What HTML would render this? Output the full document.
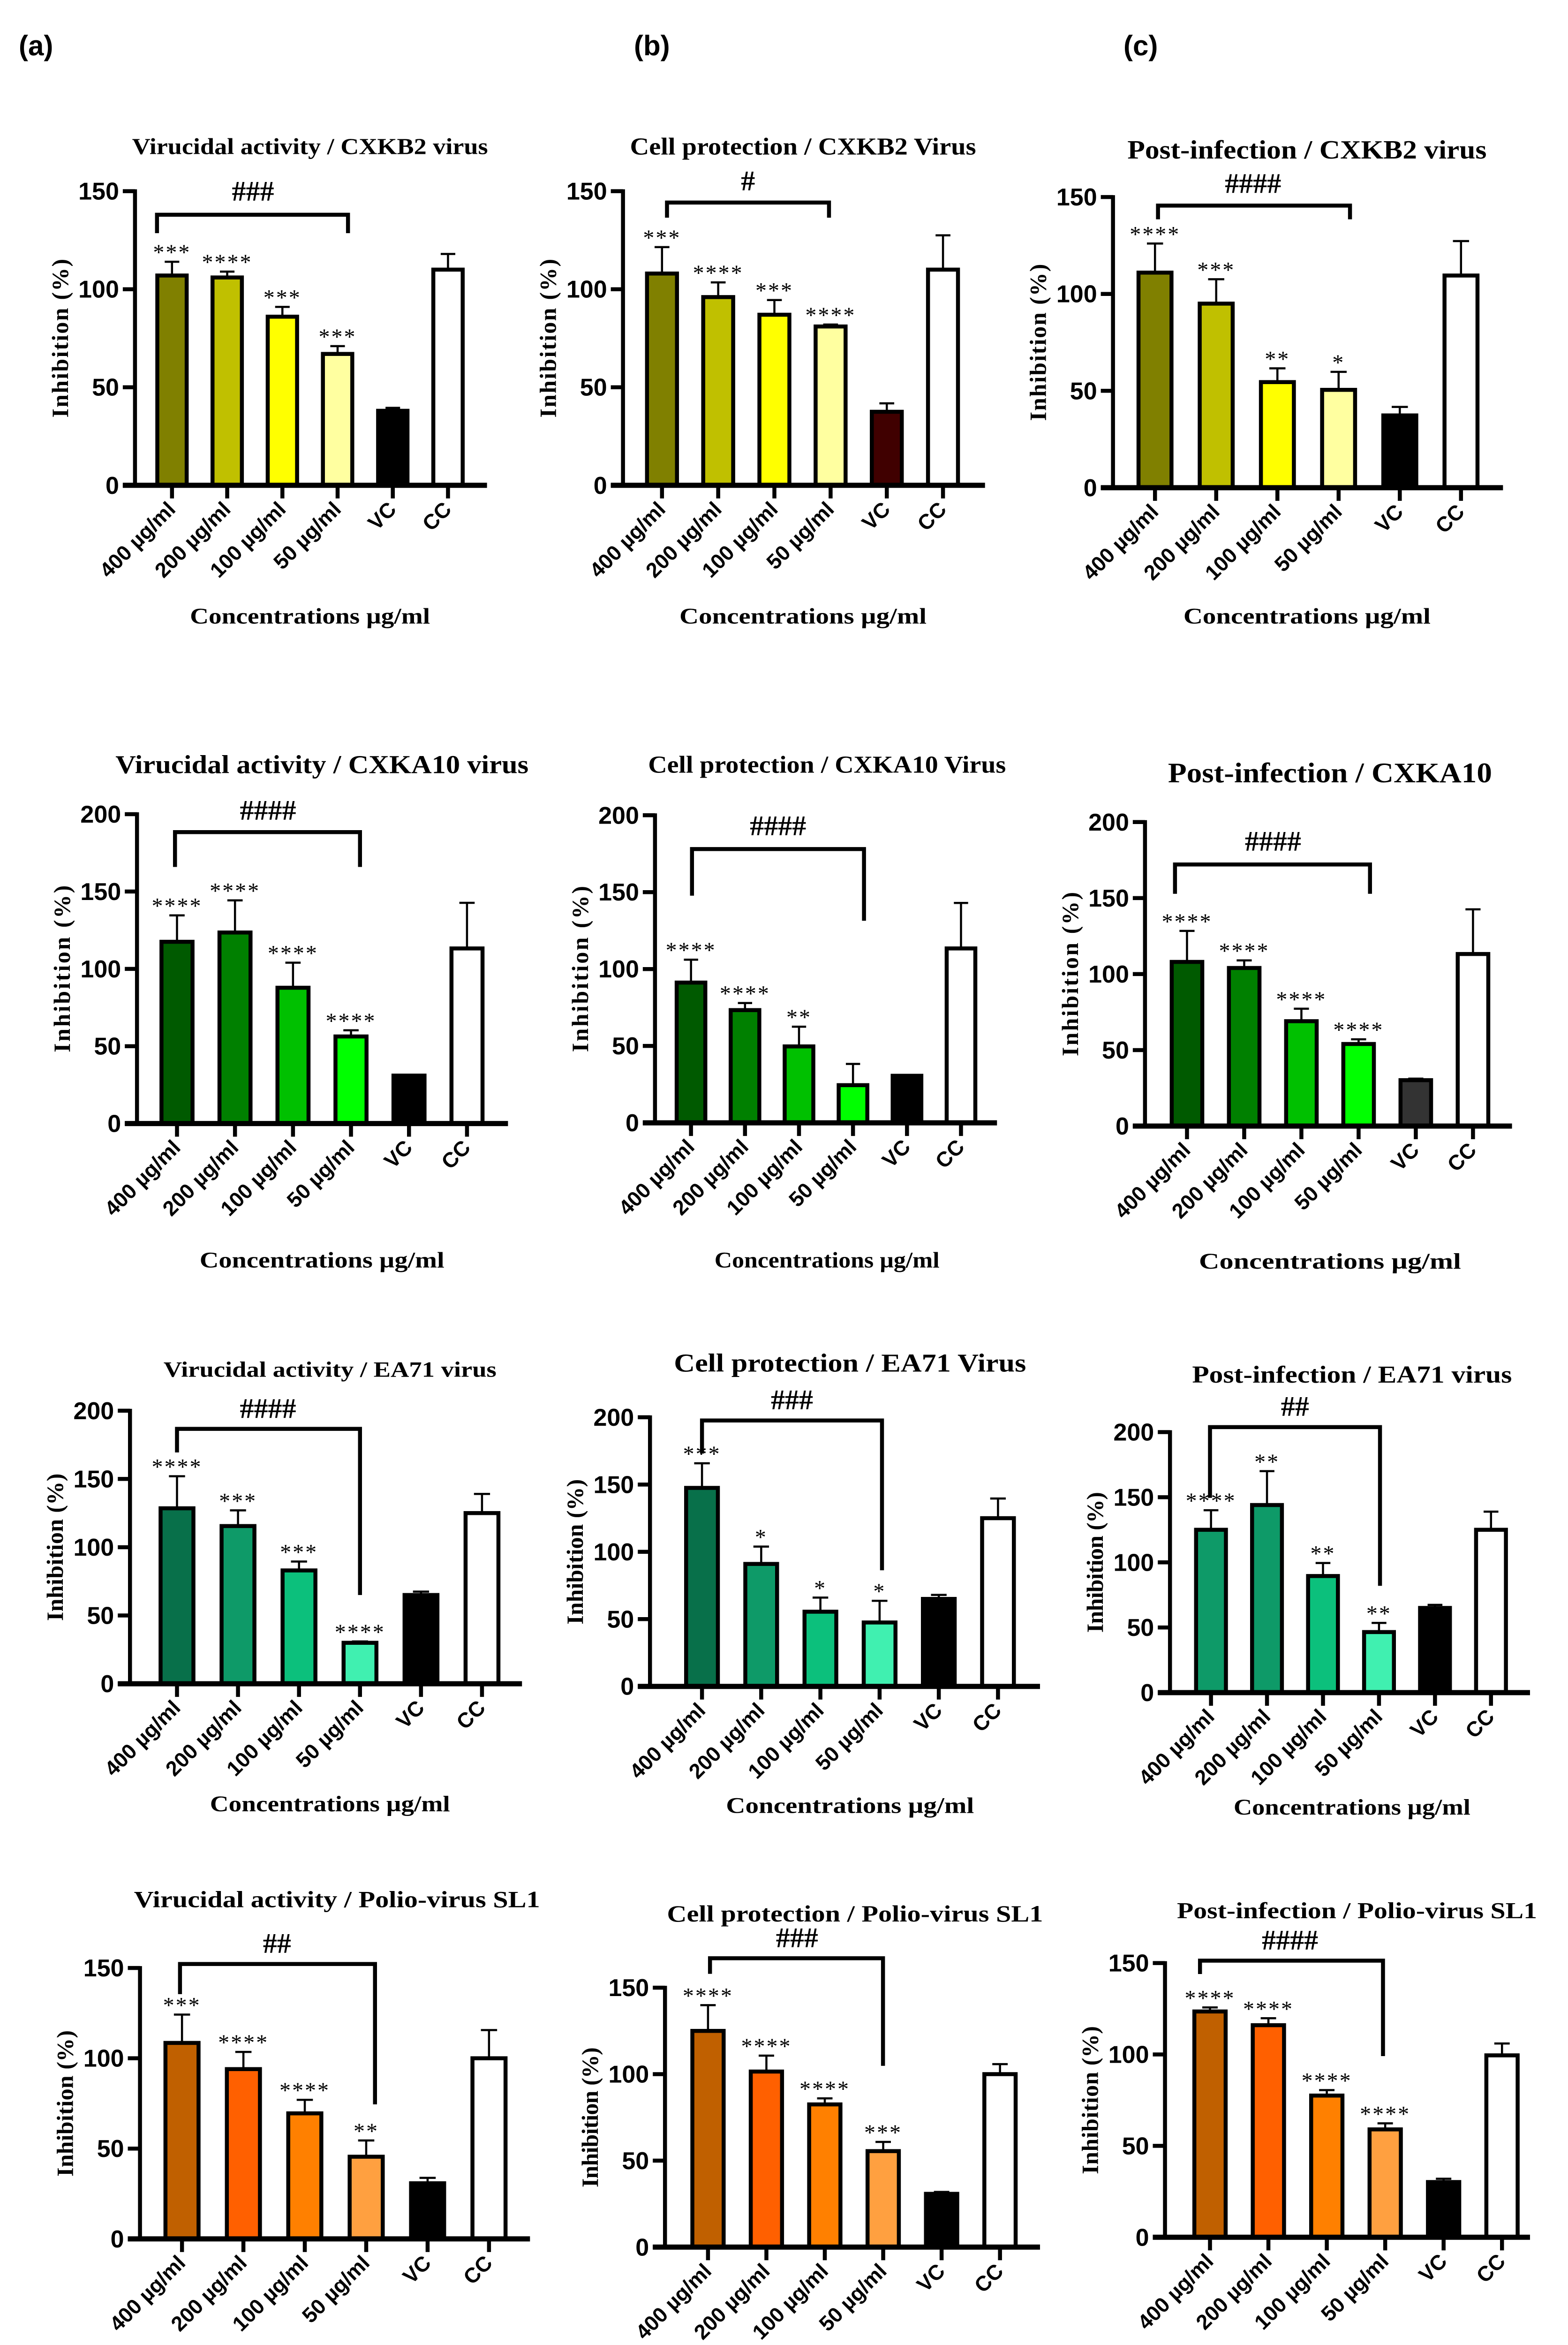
<!DOCTYPE html>
<html><head><meta charset="utf-8"><style>
html,body{margin:0;padding:0;background:#fff;width:3344px;height:5098px;overflow:hidden;}
svg{display:block;}
</style></head><body>
<svg id="fig" xmlns="http://www.w3.org/2000/svg" width="3344" height="5098" viewBox="0 0 3344 5098">
<rect width="3344" height="5098" fill="#fff"/>
<text x="40" y="118" font-family="Liberation Sans, sans-serif" font-size="60" font-weight="bold">(a)</text>
<text x="1352" y="118" font-family="Liberation Sans, sans-serif" font-size="60" font-weight="bold">(b)</text>
<text x="2396" y="118" font-family="Liberation Sans, sans-serif" font-size="60" font-weight="bold">(c)</text>
</svg>
<script>
const categories = ["400 µg/ml","200 µg/ml","100 µg/ml","50 µg/ml","VC","CC"];
const ticks150 = [0,50,100,150];
const ticks200 = [0,50,100,150,200];

const valsA1 = [107,106,86,67,38,110];
const errA1  = [114,109,91,71,39.5,118];
const starsA1 = ["***","****","***","***","",""];
const valsB1 = [108,96,87,81,37.5,110];
const errB1  = [121.5,103.5,94.5,82,41.8,127.5];
const starsB1 = ["***","****","***","****","",""];
const valsC1 = [111,95,54.5,50.5,37.3,109.5];
const errC1  = [126,107.6,61.6,59.8,41.7,127.3];
const starsC1 = ["****","***","**","*","",""];

const valsA2 = [117.5,123.5,87.8,56.3,31,113.2];
const errA2  = [134.6,144.3,104,60.3,31.5,142.7];
const starsA2 = ["****","****","****","****","",""];
const valsB2 = [91.2,73.3,49.7,24.5,30.6,113.4];
const errB2  = [106.1,77.9,62.5,38.3,31,143];
const starsB2 = ["****","****","**","","",""];
const valsC2 = [108,104,69,54,30.2,113.2];
const errC2  = [128.4,109,77.2,57.1,31.2,142.6];
const starsC2 = ["****","****","****","****","",""];

const valsA3 = [128.5,115.5,83,30,65,125];
const errA3  = [152,127,89.5,31,67.5,139];
const starsA3 = ["****","***","***","****","",""];
const valsB3 = [147.5,91,55.5,47.5,65,125];
const errB3  = [165.8,103.9,66,63.6,68,139.6];
const starsB3 = ["***","*","*","*","",""];
const valsC3 = [125,144,89.5,46.5,65,125];
const errC3  = [140,170,99.5,53.5,67.4,138.9];
const starsC3 = ["****","**","**","**","",""];

const valsA4 = [108.5,94,69.5,45.5,30.8,100];
const errA4  = [124.2,103.5,77,54.5,33.8,115.6];
const starsA4 = ["***","****","****","**","",""];
const valsB4 = [125,101.5,82.5,55.5,30.8,100];
const errB4  = [139.9,110.7,86,60.8,31.9,105.8];
const starsB4 = ["****","****","****","***","",""];
const valsC4 = [123.5,116,77.5,59,30.2,99.5];
const errC4  = [125.7,119.8,80.5,62.3,32,106];
const starsC4 = ["****","****","****","****","",""];

const NS = "http://www.w3.org/2000/svg";
const svg = document.getElementById("fig");
const rows = [{y0:250,f:1568/1150},{y0:1550,f:1568/1200},{y0:2850,f:1568/1100},{y0:4000,f:1568/1098}];
const FX = 3344/1568;

const colY = ["#808000","#c0c000","#ffff00","#ffffa0"];
const colG = ["#005a00","#008000","#00c000","#00ff00"];
const colT = ["#08704a","#0e9a68","#0cc07c","#40f0b0"];
const colT2 = ["#0e9a68","#0e9a68","#0cc07c","#40f0b0"];
const colO = ["#c06000","#ff6000","#ff8000","#ffa040"];

const panels = [
 {id:"a1",row:0,ax:135,top:215,base:1070,end:487,c0:172,c5:448,ymax:150,ticks:ticks150,vals:valsA1,err:errA1,stars:starsA1,cols:colY,vc:"#000",title:"Virucidal activity / CXKB2 virus",tx:310,ty:85,tw:759,xty:1450,xtw:512,bL:157,bR:348,bY:138,bDL:128.6,bDR:128.6,hash:"###",hx:253,hy:215},
 {id:"b1",row:0,ax:623,top:215,base:1070,end:985,c0:662,c5:943,ymax:150,ticks:ticks150,vals:valsB1,err:errB1,stars:starsB1,cols:colY,vc:"#400000",title:"Cell protection / CXKB2 Virus",tx:803,ty:85,tw:738,xty:1450,xtw:527,bL:667,bR:829,bY:144.2,bDL:136.5,bDR:136.5,hash:"#",hx:748,hy:185},
 {id:"c1",row:0,ax:1113,top:232,base:1077,end:1503,c0:1155,c5:1461,ymax:150,ticks:ticks150,vals:valsC1,err:errC1,stars:starsC1,cols:colY,vc:"#000",title:"Post-infection / CXKB2 virus",tx:1307,ty:95,tw:766,xty:1450,xtw:527,bL:1158,bR:1350,bY:145.6,bDL:138.5,bDR:138.5,hash:"####",hx:1253,hy:192},
 {id:"a2",row:1,ax:137,top:243,base:1105,end:508,c0:177,c5:467,ymax:200,ticks:ticks200,vals:valsA2,err:errA2,stars:starsA2,cols:colG,vc:"#000",title:"Virucidal activity / CXKA10 virus",tx:322,ty:105,tw:881,xty:1485,xtw:522,bL:175,bR:360,bY:188.4,bDL:165.9,bDR:165.9,hash:"####",hx:268,hy:232},
 {id:"b2",row:1,ax:655,top:246,base:1103,end:997,c0:691,c5:961,ymax:200,ticks:ticks200,vals:valsB2,err:errB2,stars:starsB2,cols:colG,vc:"#000",title:"Cell protection / CXKA10 Virus",tx:827,ty:105,tw:763,xty:1485,xtw:480,bL:692,bR:864,bY:178,bDL:147.7,bDR:131.4,hash:"####",hx:778,hy:275},
 {id:"c2",row:1,ax:1145,top:265,base:1112,end:1512,c0:1187,c5:1473,ymax:200,ticks:ticks200,vals:valsC2,err:errC2,stars:starsC2,cols:colG,vc:"#333",title:"Post-infection / CXKA10",tx:1330,ty:128,tw:691,xty:1488,xtw:559,bL:1175,bR:1370,bY:172.1,bDL:152.8,bDR:152.8,hash:"####",hx:1273,hy:318},
 {id:"a3",row:2,ax:130,top:225,base:1055,end:522,c0:177,c5:482,ymax:200,ticks:ticks200,vals:valsA3,err:errA3,stars:starsA3,cols:colT,vc:"#000",title:"Virucidal activity / EA71 virus",tx:330,ty:100,tw:710,xty:1420,xtw:512,bL:177,bR:360,bY:186.7,bDL:169.4,bDR:65,hash:"####",hx:268,hy:218},
 {id:"b3",row:2,ax:650,top:245,base:1063,end:1040,c0:702,c5:998,ymax:200,ticks:ticks200,vals:valsB3,err:errB3,stars:starsB3,cols:colT,vc:"#000",title:"Cell protection / EA71 Virus",tx:850,ty:80,tw:751,xty:1425,xtw:529,bL:702,bR:882,bY:197.6,bDL:173,bDR:86.3,hash:"###",hx:792,hy:192},
 {id:"c3",row:2,ax:1170,top:290,base:1082,end:1530,c0:1211,c5:1491,ymax:200,ticks:ticks200,vals:valsC3,err:errC3,stars:starsC3,cols:colT2,vc:"#000",title:"Post-infection / EA71 virus",tx:1352,ty:115,tw:682,xty:1430,xtw:505,bL:1210,bR:1380,bY:203.8,bDL:149.5,bDR:82,hash:"##",hx:1295,hy:212},
 {id:"a4",row:3,ax:140,top:280,base:1105,end:530,c0:182,c5:489,ymax:150,ticks:ticks150,vals:valsA4,err:errA4,stars:starsA4,cols:colO,vc:"#000",title:"Virucidal activity / Polio-virus SL1",tx:337,ty:72,tw:866,xty:1470,xtw:537,bL:180,bR:375,bY:152.2,bDL:135.5,bDR:74.5,hash:"##",hx:277,hy:205},
 {id:"b4",row:3,ax:665,top:340,base:1130,end:1040,c0:708,c5:1000,ymax:150,ticks:ticks150,vals:valsB4,err:errB4,stars:starsB4,cols:colO,vc:"#000",title:"Cell protection / Polio-virus SL1",tx:855,ty:115,tw:802,xty:1480,xtw:499,bL:710,bR:883,bY:167,bDL:158,bDR:104.8,hash:"###",hx:797,hy:188},
 {id:"c4",row:3,ax:1165,top:265,base:1100,end:1530,c0:1210,c5:1502,ymax:150,ticks:ticks150,vals:valsC4,err:errC4,stars:starsC4,cols:colO,vc:"#000",title:"Post-infection / Polio-virus SL1",tx:1357,ty:105,tw:768,xty:1468,xtw:495,bL:1200,bR:1383,bY:151.3,bDL:144,bDR:99.1,hash:"####",hx:1290,hy:195}
];

function mk(tag, attrs, parent){
  const e = document.createElementNS(NS, tag);
  for (const k in attrs) e.setAttribute(k, attrs[k]);
  (parent||svg).appendChild(e);
  return e;
}

panels.forEach(p => {
  const r = rows[p.row];
  const X = zx => zx*FX;
  const Y = zy => r.y0 + zy/r.f;
  const axX = X(p.ax), yTop = Y(p.top), yBase = Y(p.base), xEnd = X(p.end);
  const yS = v => yBase - v/p.ymax*(yBase - yTop);
  const step = (X(p.c5)-X(p.c0))/5;
  const xS = i => X(p.c0) + i*step;
  const bw = step*0.6;
  const g = mk("g", {});
  
  

  const fs = Math.min(60, p.tw/p.title.length*2.05);
  const t = mk("text", {x:X(p.tx), y:Y(p.ty)+fs*0.33, "text-anchor":"middle", "font-family":"Liberation Serif, serif", "font-weight":"bold", "font-size":fs, textLength:p.tw, lengthAdjust:"spacingAndGlyphs"}, g);
  t.textContent = p.title;
  
  

  p.ticks.forEach(v => {
    const y = yS(v);
    const tl = mk("line", {x1:axX-26, x2:axX, y1:y, y2:y, stroke:"#000", "stroke-width":8.5}, g);
    
    
    const tt = mk("text", {x:axX-34, y:y+18, "text-anchor":"end", "font-family":"Liberation Sans, sans-serif", "font-weight":"bold", "font-size":52}, g);
    tt.textContent = v;
    
    
  });

  const ym = (yTop+yBase)/2, yx = axX-160;
  const yt = mk("text", {x:yx, y:ym, transform:`rotate(-90 ${yx} ${ym})`, "text-anchor":"middle", "dominant-baseline":"central", "font-family":"Liberation Serif, serif", "font-weight":"bold", "font-size":50, textLength:(yBase-yTop)*0.54, lengthAdjust:"spacing"}, g);
  yt.textContent = "Inhibition (%)";
  
  

  const cols = p.cols.concat([p.vc, "#ffffff"]);
  categories.forEach((c, i) => {
    const cx = xS(i), v = p.vals[i], e = p.err[i];
    const yv = yS(v), ye = yS(e);
    const el = mk("line", {x1:cx, x2:cx, y1:yv, y2:ye, stroke:"#000", "stroke-width":4.5}, g);
    
    
    const ec = mk("line", {x1:cx-bw*0.22, x2:cx+bw*0.22, y1:ye, y2:ye, stroke:"#000", "stroke-width":4.5}, g);
    
    
    const b = mk("rect", {x:cx-bw/2+4, y:yv, width:bw-8, height:yBase-yv, fill:cols[i], stroke:"#000", "stroke-width":8.5}, g);
    
    
    if (p.stars[i]) {
      const s = mk("text", {x:cx, y:ye-4, "text-anchor":"middle", "font-family":"Liberation Serif, serif", "font-size":48, "letter-spacing":3}, g);
      s.textContent = p.stars[i];
      
      
    }
    const xt = mk("line", {x1:cx, x2:cx, y1:yBase, y2:yBase+28, stroke:"#000", "stroke-width":8.5}, g);
    
    
    const lx = cx+10, ly = yBase+54;
    const xl = mk("text", {x:lx, y:ly, transform:`rotate(-45 ${lx} ${ly})`, "text-anchor":"end", "font-family":"Liberation Sans, sans-serif", "font-weight":"bold", "font-size":45}, g);
    xl.textContent = c;
    
    
  });

  const ya = mk("line", {x1:axX, x2:axX, y1:yTop-4, y2:yBase+4, stroke:"#000", "stroke-width":8.5}, g);
  
  
  const xa = mk("line", {x1:axX-26, x2:xEnd, y1:yBase, y2:yBase, stroke:"#000", "stroke-width":11}, g);
  
  

  const bY = yS(p.bY);
  const br = mk("path", {d:`M${X(p.bL)} ${yS(p.bDL)} L${X(p.bL)} ${bY} L${X(p.bR)} ${bY} L${X(p.bR)} ${yS(p.bDR)}`, fill:"none", stroke:"#000", "stroke-width":8.5}, g);
  
  
  const h = mk("text", {x:X(p.hx), y:Y(p.hy)+20, "text-anchor":"middle", "font-family":"Liberation Serif, serif", "font-weight":"bold", "font-size":60}, g);
  h.textContent = p.hash;
  
  

  const xtt = mk("text", {x:X(p.tx), y:Y(p.xty)+16, "text-anchor":"middle", "font-family":"Liberation Serif, serif", "font-weight":"bold", "font-size":48, textLength:p.xtw, lengthAdjust:"spacingAndGlyphs"}, g);
  xtt.textContent = "Concentrations µg/ml";
  
  
});
</script>
</body></html>
